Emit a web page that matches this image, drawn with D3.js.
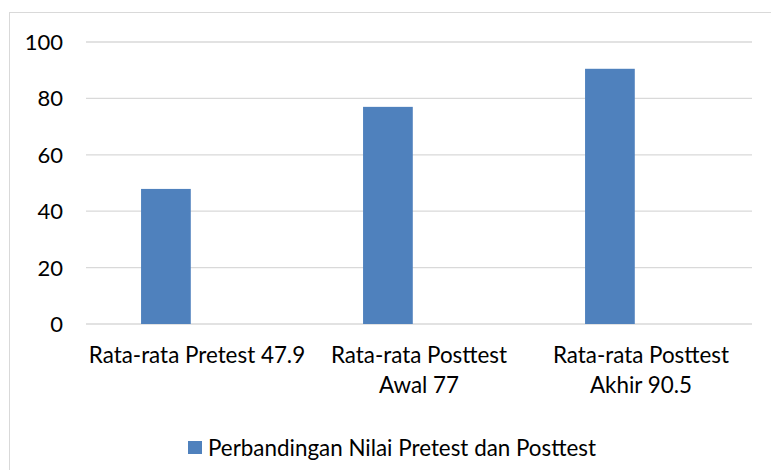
<!DOCTYPE html>
<html>
<head>
<meta charset="utf-8">
<script src="https://cdn.jsdelivr.net/npm/d3@7"></script>
<style>
  body { margin: 0; background: #fff; }
  text { font-family: Lato, 'Open Sans', sans-serif; fill: #000; }
</style>
</head>
<body>
<script>
const categories = ['Rata-rata Pretest 47.9', 'Rata-rata Posttest Awal 77', 'Rata-rata Posttest Akhir 90.5']
const seriesName = 'Perbandingan Nilai Pretest dan Posttest'
const values = [47.9, 77, 90.5]
const yTicks = [0, 20, 40, 60, 80, 100]

const width = 771
const height = 470
const margin = { top: 42, right: 19, bottom: 146, left: 86 }
const fontSize = '22.4px'

const svg = d3.select('body')
  .append('svg')
  .attr('width', width)
  .attr('height', height)

// chart area border
svg.append('rect')
  .attr('x', 9.5)
  .attr('y', 12.5)
  .attr('width', width)
  .attr('height', height)
  .attr('fill', 'none')
  .attr('stroke', '#d9d9d9')
  .attr('stroke-width', 1)

const xScale = d3.scaleBand()
  .domain(categories)
  .range([margin.left, width - margin.right])
  .padding(0)

const yScale = d3.scaleLinear()
  .domain([0, 100])
  .range([height - margin.bottom, margin.top])

// gridlines
svg.append('g')
  .selectAll('line')
  .data(yTicks)
  .enter()
  .append('line')
  .attr('x1', margin.left)
  .attr('x2', width - margin.right)
  .attr('y1', (d) => yScale(d))
  .attr('y2', (d) => yScale(d))
  .attr('stroke', '#d9d9d9')
  .attr('stroke-width', 1.3)

// y labels
svg.append('g')
  .selectAll('text')
  .data(yTicks)
  .enter()
  .append('text')
  .attr('x', 63)
  .attr('y', (d) => yScale(d))
  .attr('dy', '0.36em')
  .attr('text-anchor', 'end')
  .attr('font-size', '22px')
  .text((d) => d)

// bars sit in the left part of each category, like the Excel original
const barOffset = 0.248
const barWidth = 0.224

svg.append('g')
  .selectAll('rect')
  .data(values)
  .enter()
  .append('rect')
  .attr('x', (d, i) => xScale(categories[i]) + xScale.bandwidth() * barOffset)
  .attr('y', (d) => yScale(d))
  .attr('width', xScale.bandwidth() * barWidth)
  .attr('height', (d) => yScale(0) - yScale(d))
  .attr('fill', '#4f81bd')

// x labels, wrapped to band width
const xLabels = svg.append('g')
  .selectAll('text')
  .data(categories)
  .enter()
  .append('text')
  .attr('x', (d) => xScale(d) + xScale.bandwidth() / 2)
  .attr('y', 355)
  .attr('text-anchor', 'middle')
  .attr('font-size', fontSize)

xLabels.each(function (d) {
  const el = d3.select(this)
  const words = d.split(' ')
  const maxW = xScale.bandwidth() - 2
  let lines = []
  let line = []
  let tspan = el.append('tspan')
  words.forEach((w) => {
    line.push(w)
    tspan.text(line.join(' '))
    if (tspan.node().getComputedTextLength() > maxW && line.length > 1) {
      line.pop()
      lines.push(line.join(' '))
      line = [w]
      tspan.text(w)
    }
  })
  lines.push(line.join(' '))
  el.text(null)
  lines.forEach((l, i) => {
    el.append('tspan')
      .attr('x', el.attr('x'))
      .attr('dy', i === 0 ? '0.36em' : '30px')
      .text(l)
  })
})

// legend
const legend = svg.append('g')
legend.append('rect')
  .attr('x', 188)
  .attr('y', 441)
  .attr('width', 14)
  .attr('height', 13)
  .attr('fill', '#4f81bd')
legend.append('text')
  .attr('x', 208)
  .attr('y', 447.5)
  .attr('dy', '0.36em')
  .attr('font-size', fontSize)
  .text(seriesName)
</script>
</body>
</html>
